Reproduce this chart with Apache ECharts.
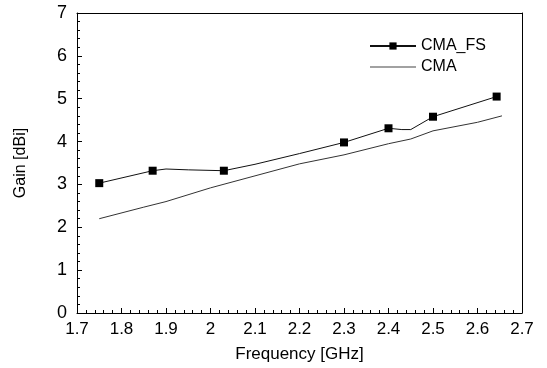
<!DOCTYPE html>
<html>
<head>
<meta charset="utf-8">
<script src="https://cdn.jsdelivr.net/npm/echarts@6/dist/echarts.min.js"></script>
<style>html,body{margin:0;padding:0;background:#fff;}#c{width:547px;height:368px;}</style>
</head>
<body>
<div id="c"></div>
<script>
// CMA_FS (with markers at measured points)
const fsFreq   = [1.75, 1.87, 1.90, 1.95, 2.03, 2.10, 2.20, 2.30, 2.40, 2.43, 2.45, 2.50, 2.643];
const fsGain   = [3.03, 3.32, 3.36, 3.34, 3.32, 3.47, 3.72, 3.98, 4.31, 4.28, 4.28, 4.58, 5.05];
const fsMarker = [true, true, false, false, true, false, false, true, true, false, false, true, true];
// CMA
const cmaFreq = [1.75, 1.85, 1.90, 2.00, 2.10, 2.20, 2.30, 2.40, 2.45, 2.50, 2.60, 2.655];
const cmaGain = [2.20, 2.47, 2.60, 2.92, 3.20, 3.48, 3.69, 3.95, 4.06, 4.25, 4.45, 4.60];
const xTicks = [1.7, 1.8, 1.9, 2, 2.1, 2.2, 2.3, 2.4, 2.5, 2.6, 2.7];
const yTicks = [0, 1, 2, 3, 4, 5, 6, 7];

const font = 'Liberation Sans';
const W = 547, H = 368, GL = 77, GR = 25, GT = 13, GB = 55;
const chart = echarts.init(document.getElementById('c'), null, {renderer: 'canvas'});
const fsData = fsFreq.map((f, i) => fsMarker[i] ? [f, fsGain[i]] : {value: [f, fsGain[i]], symbol: 'none'});
const cmaData = cmaFreq.map((f, i) => [f, cmaGain[i]]);
const xMin = xTicks[0], xMax = xTicks[xTicks.length - 1];
const yMin = yTicks[0], yMax = yTicks[yTicks.length - 1];
const frameAxis = {
  axisLine: {show: true, onZero: false, lineStyle: {color: '#000', width: 1}},
  axisTick: {show: false}, minorTick: {show: false}, axisLabel: {show: false}, splitLine: {show: false}
};
// tick-only axes placed on the opposite edge so their outward ticks point into the plot
const tickAxis = {
  axisLine: {show: false, onZero: false},
  axisTick: {show: true, length: 5, lineStyle: {color: '#000', width: 1}},
  minorTick: {show: true, splitNumber: 5, length: 3, lineStyle: {color: '#000', width: 1}},
  axisLabel: {show: false}, splitLine: {show: false}
};

chart.setOption({
  animation: false,
  backgroundColor: '#fff',
  grid: {left: GL, right: GR, top: GT, bottom: GB},
  legend: {
    orient: 'vertical', left: 364, top: 33, itemWidth: 46, itemHeight: 9, itemGap: 5,
    textStyle: {fontFamily: font, fontSize: 16, color: '#000'},
    data: [{name: 'CMA_FS'}, {name: 'CMA', icon: 'path://M0,0L200,0L200,4L0,4Z', itemStyle: {color: '#444'}}]
  },
  xAxis: [{
    type: 'value', min: xMin, max: xMax, interval: 0.1,
    name: 'Frequency [GHz]', nameLocation: 'middle', nameGap: 33,
    nameTextStyle: {fontFamily: font, fontSize: 17, color: '#000'},
    axisLine: {show: true, onZero: false, lineStyle: {color: '#000', width: 1}},
    axisTick: {show: false}, minorTick: {show: false},
    splitLine: {show: false},
    axisLabel: {fontFamily: font, fontSize: 17, color: '#000', margin: 8,
      formatter: v => String(Math.round(v * 10) / 10)}
  },
  Object.assign({type: 'value', position: 'top', min: xMin, max: xMax}, frameAxis),
  Object.assign({type: 'value', position: 'top', offset: -(H - GT - GB), min: xMin, max: xMax, interval: 0.1}, tickAxis)],
  yAxis: [{
    type: 'value', min: yMin, max: yMax, interval: 1,
    name: 'Gain [dBi]', nameLocation: 'middle', nameGap: 48, nameRotate: 90,
    nameTextStyle: {fontFamily: font, fontSize: 16, color: '#000'},
    axisLine: {show: true, onZero: false, lineStyle: {color: '#000', width: 1}},
    axisTick: {show: false}, minorTick: {show: false},
    splitLine: {show: false},
    axisLabel: {fontFamily: font, fontSize: 18, color: '#000', margin: 10}
  },
  Object.assign({type: 'value', position: 'right', min: yMin, max: yMax}, frameAxis),
  Object.assign({type: 'value', position: 'right', offset: -(W - GL - GR), min: yMin, max: yMax, interval: 1}, tickAxis)],
  series: [
    {name: 'CMA_FS', type: 'line', data: fsData, symbol: 'rect', symbolSize: 8,
      smooth: false, lineStyle: {color: '#111', width: 1}, itemStyle: {color: '#000'}},
    {name: 'CMA', type: 'line', data: cmaData, symbol: 'none', smooth: false,
      lineStyle: {color: '#333', width: 1}, itemStyle: {color: '#333'}}
  ]
});
</script>
</body>
</html>
